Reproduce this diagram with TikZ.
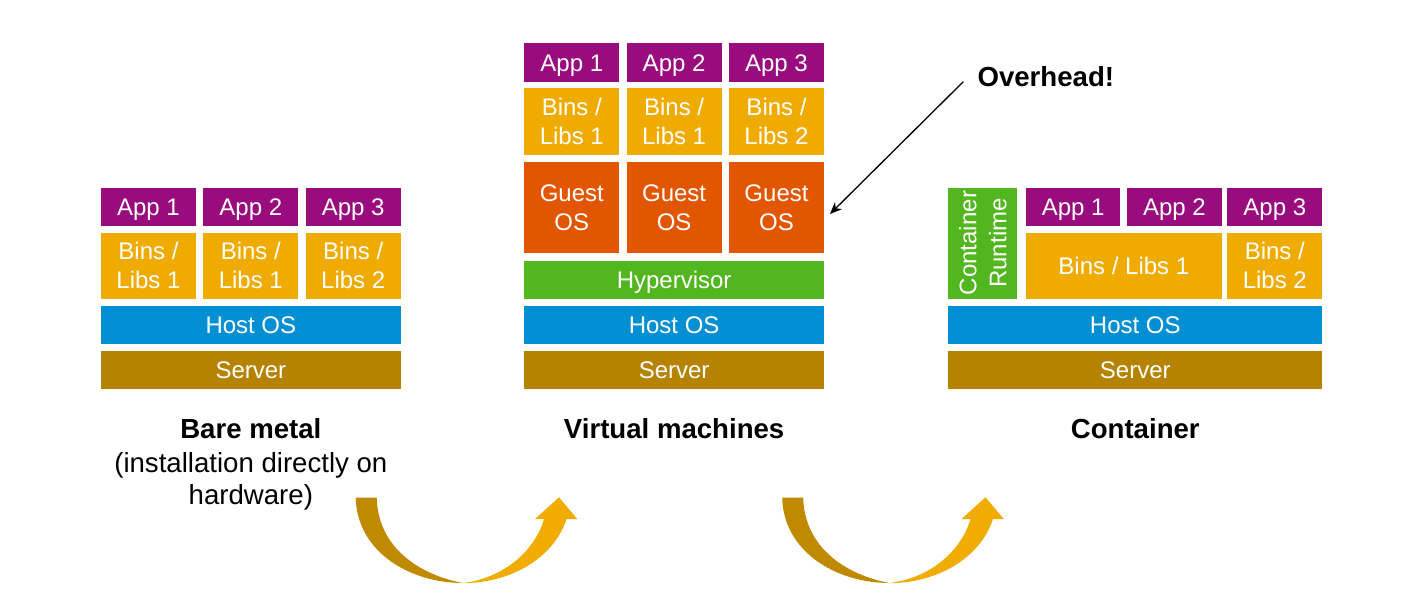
\documentclass[tikz,border=0pt]{standalone}
\usepackage{fontspec}
\setmainfont{Liberation Sans}
\usetikzlibrary{arrows.meta}
\definecolor{cApp}{RGB}{153,12,126}
\definecolor{cBins}{RGB}{240,171,0}
\definecolor{cGuest}{RGB}{227,86,0}
\definecolor{cHyp}{RGB}{82,182,31}
\definecolor{cHost}{RGB}{0,143,211}
\definecolor{cServer}{RGB}{181,131,0}
\definecolor{cArrDark}{RGB}{192,138,0}
\definecolor{cArrLight}{RGB}{240,172,0}
\begin{document}
\begin{tikzpicture}[x=0.5pt,y=-0.5pt,
  layer/.style={inner sep=0pt, outer sep=0pt, text=white, font=\fontsize{12}{14.5}\selectfont},
  one/.style={layer, text height=8.6pt, text depth=0pt},
  two/.style={layer, align=center},
  bw/.style={minimum width=#1*0.5pt},
  bh/.style={minimum height=#1*0.5pt},
  app/.style={one, fill=cApp, bw=95, bh=38.2},
  bins/.style={two, fill=cBins, bw=95, bh=66.3},
  guest/.style={two, fill=cGuest, bw=95, bh=91.6},
  wide/.style={one, bw=299.7, bh=38.3},
  title/.style={font=\fontsize{13.8}{15.5}\selectfont\bfseries, anchor=base, inner sep=0pt},
  sub/.style={font=\fontsize{13.8}{15.5}\selectfont, anchor=base, inner sep=0pt},
  overarrow/.style={draw=black, line width=0.65pt, -{Stealth[length=6pt,width=5pt]}},
]
\useasboundingbox (0,0) rectangle (1426,605);

% ---------- Bare metal ----------
\node[app] (bma1) at (148.5,206.6) {App 1};
\node[app] (bma2) at (250.8,206.6) {App 2};
\node[app] (bma3) at (353.2,206.6) {App 3};
\node[bins] (bmb1) at (148.5,265.85) {Bins /\\Libs 1};
\node[bins] (bmb2) at (250.8,265.85) {Bins /\\Libs 1};
\node[bins] (bmb3) at (353.2,265.85) {Bins /\\Libs 2};
\node[wide, fill=cHost] (bmhost) at (250.85,325.15) {Host OS};
\node[wide, fill=cServer] (bmserver) at (250.85,370.15) {Server};
\node[title] (bmt) at (250.85,438) {Bare metal};
\node[sub] (bms1) at (250.85,472) {(installation directly on};
\node[sub] (bms2) at (250.85,504) {hardware)};

% ---------- Virtual machines ----------
\node[app] (vma1) at (571.8,62.4) {App 1};
\node[app] (vma2) at (674.1,62.4) {App 2};
\node[app] (vma3) at (776.5,62.4) {App 3};
\node[bins] (vmb1) at (571.8,121.4) {Bins /\\Libs 1};
\node[bins] (vmb2) at (674.1,121.4) {Bins /\\Libs 1};
\node[bins] (vmb3) at (776.5,121.4) {Bins /\\Libs 2};
\node[guest] (vmg1) at (571.8,207.5) {Guest\\OS};
\node[guest] (vmg2) at (674.1,207.5) {Guest\\OS};
\node[guest] (vmg3) at (776.5,207.5) {Guest\\OS};
\node[wide, fill=cHyp] (vmhyp) at (674.15,280) {Hypervisor};
\node[wide, fill=cHost] (vmhost) at (674.15,325.15) {Host OS};
\node[wide, fill=cServer] (vmserver) at (674.15,370.15) {Server};
\node[title] (vmt) at (674.15,438) {Virtual machines};

% ---------- Container ----------
\node[two, fill=cHyp, bw=111, bh=69, rotate=90, font=\fontsize{12}{15}\selectfont] (crt) at (982.8,243) {Container\\Runtime};
\node[app, bw=94.3] (ca1) at (1073.15,206.6) {App 1};
\node[app, bw=94.7] (ca2) at (1174.35,206.6) {App 2};
\node[app] (ca3) at (1274.8,206.6) {App 3};
\node[bins, bw=195.7] (cb1) at (1123.85,265.85) {Bins / Libs 1};
\node[bins] (cb2) at (1274.8,265.85) {Bins /\\Libs 2};
\node[wide, fill=cHost, bw=374] (chost) at (1135.3,325.15) {Host OS};
\node[wide, fill=cServer, bw=374] (cserver) at (1135.3,370.15) {Server};
\node[title] (ct) at (1135.3,438) {Container};

% ---------- Overhead ----------
\node[title] (oh) at (1045.8,86) {Overhead!};
\coordinate (ohs) at (963.3,81.7);
\coordinate (ohe) at (830,214);
\draw[overarrow] (ohs) -- (ohe);

% ---------- curved arrows ----------
\foreach \dx in {0,426.5} {
  \begin{scope}[shift={(\dx,0)}]
    \fill[cArrDark] (355.7,497.7) .. controls (357,552) and (410,583) .. (463,583)
      .. controls (420,575) and (378,548) .. (376.7,497.7) -- cycle;
    \fill[cArrLight] (462,583.2) .. controls (515,583) and (555,555) .. (566.5,519)
      -- (577.3,519) -- (559,497.3) -- (535,519) -- (544,519)
      .. controls (535,550) and (505,578) .. (462,583.2) -- cycle;
  \end{scope}
}
\end{tikzpicture}
\end{document}
